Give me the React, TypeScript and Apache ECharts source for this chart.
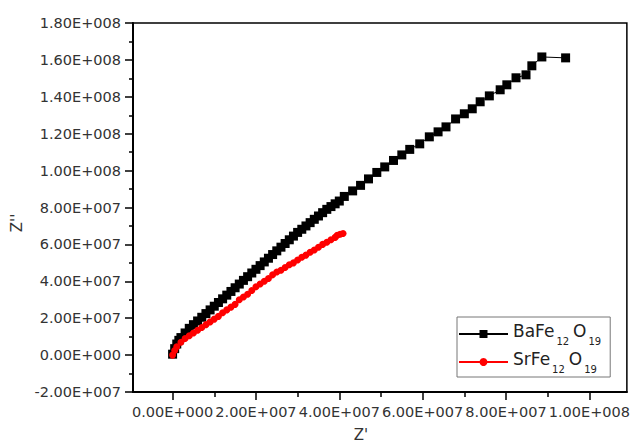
import React, { useEffect, useRef } from 'react';
import * as echarts from 'echarts';

const SCALE = 1e7;

// BaFe12O19 : Z' and Z'' (units of 1e7)
const baX = [0, 0.05, 0.1, 0.15, 0.2, 0.3, 0.4, 0.5, 0.6, 0.7, 0.8, 0.9, 1.0, 1.1, 1.2, 1.3, 1.4, 1.5, 1.6, 1.7, 1.8, 1.9,
  2.0, 2.1, 2.2, 2.3, 2.4, 2.5, 2.6, 2.7, 2.8, 2.9, 3.0, 3.1, 3.2, 3.3, 3.4, 3.5, 3.6, 3.7, 3.8, 3.9, 4.0,
  4.12, 4.32, 4.51, 4.7, 4.9, 5.09, 5.3, 5.5, 5.69, 5.93,
  6.16, 6.37, 6.56, 6.79, 7.0, 7.19, 7.38, 7.6, 7.86, 8.02,
  8.24, 8.48, 8.62, 8.86, 9.43];
const baY = [0.05, 0.35, 0.6, 0.8, 0.95, 1.2, 1.45, 1.65, 1.85, 2.05, 2.25, 2.45, 2.65, 2.85, 3.05, 3.25, 3.45, 3.65, 3.85, 4.05, 4.25, 4.45,
  4.65, 4.85, 5.05, 5.25, 5.45, 5.65, 5.85, 6.05, 6.25, 6.45, 6.65, 6.82, 7.0, 7.18, 7.36, 7.54, 7.72, 7.9, 8.05, 8.2, 8.35,
  8.6, 8.9, 9.2, 9.55, 9.9, 10.2, 10.55, 10.85, 11.15, 11.45,
  11.83, 12.1, 12.37, 12.8, 13.08, 13.35, 13.73, 14.05, 14.38, 14.65,
  15.03, 15.19, 15.68, 16.16, 16.11];

// SrFe12O19 : Z' and Z'' (units of 1e7)
const srX = [0, 0.05, 0.1, 0.2, 0.3, 0.4, 0.5, 0.6, 0.7, 0.8, 0.9, 1.0, 1.1, 1.2, 1.3, 1.4, 1.5, 1.6, 1.7, 1.8, 1.9, 2.0,
  2.1, 2.2, 2.3, 2.4, 2.5, 2.6, 2.7, 2.8, 2.9, 3.0, 3.1, 3.2, 3.3, 3.4, 3.5, 3.6, 3.7, 3.8, 3.9, 3.95, 4.02, 4.09];
const srY = [0, 0.25, 0.45, 0.7, 0.9, 1.05, 1.2, 1.35, 1.5, 1.65, 1.8, 1.95, 2.1, 2.3, 2.45, 2.6, 2.75, 3.0, 3.15, 3.3, 3.5, 3.7,
  3.85, 4.0, 4.15, 4.35, 4.5, 4.6, 4.75, 4.9, 5.0, 5.15, 5.3, 5.42, 5.57, 5.7, 5.85, 6.0, 6.12, 6.25, 6.38, 6.5, 6.55, 6.59];

const xTicks = [0, 2e7, 4e7, 6e7, 8e7, 1e8];
const xMinorTicks = [1e7, 3e7, 5e7, 7e7, 9e7];

const seriesNames = ['BaFe12O19', 'SrFe12O19'];
const xTitle = "Z'";
const yTitle = "Z''";

const FONT = 'DejaVu Sans';

function sci(v: number): string {
  if (Math.abs(v) < 1e-6) return '0.00E+000';
  const sign = v < 0 ? '-' : '';
  const a = Math.abs(v);
  const e = Math.floor(Math.log10(a) + 1e-9);
  const m = a / Math.pow(10, e);
  return sign + m.toFixed(2) + 'E+' + String(e).padStart(3, '0');
}

function pairs(xs: number[], ys: number[]) {
  return xs.map((x, i) => [x * SCALE, ys[i] * SCALE]);
}

export default function App() {
  const ref = useRef<HTMLDivElement>(null);
  useEffect(() => {
    if (!ref.current) return;
    const chart = echarts.init(ref.current, undefined, { renderer: 'svg' });
    const labelStyle = { fontFamily: FONT, fontSize: 14.5, color: '#333' };
    chart.setOption({
      animation: false,
      backgroundColor: '#fff',
      grid: { left: 133, top: 23, right: 2, bottom: 51, show: true, borderColor: '#000', borderWidth: 1.5, backgroundColor: 'transparent' },
      xAxis: [
        {
          type: 'value', min: -9.5e6, max: 1.09e8,
          axisLine: { show: true, onZero: false, lineStyle: { color: '#000', width: 2 } },
          axisTick: { show: true, inside: false, length: 8, customValues: xTicks, lineStyle: { color: '#000', width: 1.5 } },
          axisLabel: { ...labelStyle, margin: 12, customValues: xTicks, formatter: (v: number) => sci(v) },
          splitLine: { show: false },
        },
        {
          type: 'value', min: -9.5e6, max: 1.09e8, position: 'bottom',
          axisLine: { show: false, onZero: false },
          axisTick: { show: true, inside: false, length: 5, customValues: xMinorTicks, lineStyle: { color: '#000', width: 1.5 } },
          axisLabel: { show: false },
          splitLine: { show: false },
        },
      ],
      yAxis: {
        type: 'value', min: -2e7, max: 1.8e8, interval: 2e7,
        axisLine: { show: true, onZero: false, lineStyle: { color: '#000', width: 2 } },
        axisTick: { show: true, inside: false, length: 8, lineStyle: { color: '#000', width: 1.5 } },
        minorTick: { show: true, splitNumber: 2, length: 4, lineStyle: { color: '#000', width: 1.5 } },
        axisLabel: { ...labelStyle, margin: 12, formatter: (v: number) => sci(v) },
        splitLine: { show: false },
        minorSplitLine: { show: false },
      },
      legend: {
        orient: 'vertical', left: 457, top: 317,
        padding: [5, 5, 3, 1], itemGap: 4, itemWidth: 49, itemHeight: 10,
        borderColor: '#777', borderWidth: 1, backgroundColor: '#fff', borderRadius: 0,
        selectedMode: false,
        data: seriesNames,
        formatter: (name: string) => {
          const el = name.startsWith('Ba') ? 'Ba' : 'Sr';
          return `{m|${el}Fe}{s|12}{m|O}{s|19}`;
        },
        textStyle: {
          rich: {
            m: { fontFamily: FONT, fontSize: 17, color: '#222', lineHeight: 24, verticalAlign: 'top' },
            s: { fontFamily: FONT, fontSize: 10, color: '#222', lineHeight: 10, verticalAlign: 'bottom', padding: [0, 4, 0, 2] },
          },
        },
      },
      series: [
        {
          name: seriesNames[0], type: 'line', xAxisIndex: 0, data: pairs(baX, baY),
          symbol: 'rect', symbolSize: 9, showSymbol: true,
          itemStyle: { color: '#000' }, lineStyle: { color: '#000', width: 1 },
        },
        {
          name: seriesNames[1], type: 'line', xAxisIndex: 0, data: pairs(srX, srY),
          symbol: 'circle', symbolSize: 7, showSymbol: true,
          itemStyle: { color: '#ff0000' }, lineStyle: { color: '#ff0000', width: 1 },
        },
      ],
      graphic: [
        { type: 'text', x: 361, y: 435, style: { text: xTitle, font: `15px "${FONT}"`, fill: '#333', align: 'center', verticalAlign: 'middle' } },
        { type: 'text', x: 17, y: 223, rotation: Math.PI / 2, style: { text: yTitle, font: `15px "${FONT}"`, fill: '#333', align: 'center', verticalAlign: 'middle' } },
      ],
    });
    return () => chart.dispose();
  }, []);
  return <div ref={ref} style={{ position: 'fixed', left: 0, top: 0, width: 633, height: 443, background: '#fff' }} />;
}
